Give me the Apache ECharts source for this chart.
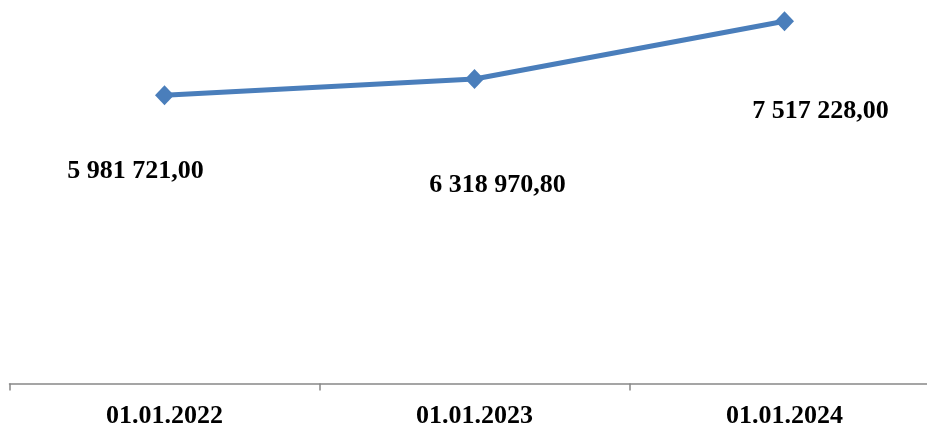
<!DOCTYPE html>
<html>
<head>
<meta charset="utf-8">
<script src="https://cdn.jsdelivr.net/npm/echarts@6/dist/echarts.min.js"></script>
<style>html,body{margin:0;padding:0;background:#fff}#c{width:927px;height:425px}</style>
</head>
<body>
<div id="c"></div>
<script>
const categories = ['01.01.2022', '01.01.2023', '01.01.2024'];
const values = [5981721.00, 6318970.80, 7517228.00];
const labelTexts = ['5 981 721,00', '6 318 970,80', '7 517 228,00'];
const labelOffsets = [[-29, 76], [23, 106], [36, 90]];

const chart = echarts.init(document.getElementById('c'));
chart.setOption({
  animation: false,
  grid: { left: 9.5, width: 930, top: -2, height: 385.5, outerBoundsMode: 'none', containLabel: false },
  xAxis: {
    type: 'category',
    data: categories,
    boundaryGap: true,
    axisLine: { lineStyle: { color: '#888888', width: 1.5 } },
    axisTick: { show: true, length: 7, lineStyle: { color: '#888888', width: 1.5 } },
    axisLabel: { margin: 20, fontFamily: 'Liberation Serif', fontWeight: 'bold', fontSize: 26, color: '#000' }
  },
  yAxis: {
    type: 'value', min: 0, max: 8000000, show: false,
    splitLine: { show: false }
  },
  series: [{
    type: 'line',
    data: values.map((v, i) => ({
      value: v,
      label: {
        show: true,
        position: 'inside',
        offset: labelOffsets[i],
        formatter: labelTexts[i]
      }
    })),
    symbol: 'diamond',
    symbolSize: [19, 20],
    lineStyle: { color: '#4A7EBB', width: 5 },
    itemStyle: { color: '#4A7EBB' },
    label: {
      fontFamily: 'Liberation Serif', fontWeight: 'bold', fontSize: 26, color: '#000'
    }
  }]
});
</script>
</body>
</html>
